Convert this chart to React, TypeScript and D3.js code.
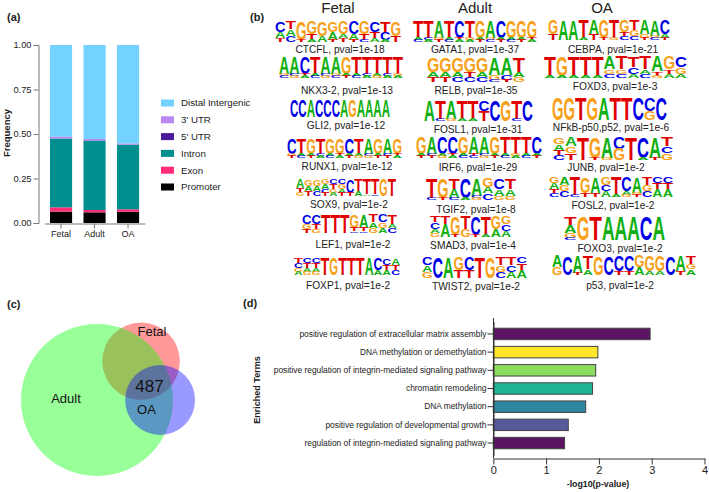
import * as d3 from "d3";
import React from "react";

const FONT = "'Liberation Sans', Arial, sans-serif";

// (a) genomic annotation
const stages = ["Fetal", "Adult", "OA"];
const annotations = ["Promoter", "Exon", "Intron", "5' UTR", "3' UTR", "Distal Intergenic"];
const annotationColors = ["#000000", "#ff2d78", "#008f8f", "#4b1a9a", "#b988f5", "#73d2ff"];
const promoter = [0.064, 0.06, 0.063];
const exon = [0.024, 0.013, 0.014];
const intron = [0.386, 0.39, 0.363];
const utr5 = [0.001, 0.001, 0.001];
const utr3 = [0.01, 0.008, 0.006];
const distal = [0.515, 0.528, 0.553];
const freqTicks = [0, 0.25, 0.5, 0.75, 1];

// (b) motifs: columns top to bottom, letter + height in tenths
const motifNames = [
  ["CTCFL, pval=1e-18", "NKX3-2, pval=1e-13", "GLI2, pval=1e-12", "RUNX1, pval=1e-12", "SOX9, pval=1e-2", "LEF1, pval=1e-2", "FOXP1, pval=1e-2"],
  ["GATA1, pval=1e-37", "RELB, pval=1e-35", "FOSL1, pval=1e-31", "IRF6, pval=1e-29", "TGIF2, pval=1e-8", "SMAD3, pval=1e-4", "TWIST2, pval=1e-2"],
  ["CEBPA, pval=1e-21", "FOXD3, pval=1e-3", "NFkB-p50,p52, pval=1e-6", "JUNB, pval=1e-2", "FOSL2, pval=1e-2", "FOXO3, pval=1e-2", "p53, pval=1e-2"],
];
const motifLogos = [
  [
    "C5A3T2 T4A3C3 G9T1 G6T3A1 G7A3 G5A4T1 G6A2T2 C6A3T1 G6T3C1 C5T3A2 T5C4A1 G7T3",
    "A8G1C1 A8C1G1 C8T1A1 T8A1C1 A8C1G1 A8G1C1 G8A1T1 T8A1C1 T8C1A1 T8A1G1 T8C1A1 T8G1A1",
    "C10 C10 A10 C10 C10 C10 A10 G10 A10 A10 A10 A10",
    "C8G1T1 T8A1C1 G8A1T1 T8C1A1 G8A1C1 G8T1A1 C8A1T1 T8A1G1 A8C1G1 G8A1T1 A8C1T1 G8T1A1",
    "A5T3G2 G4A3T3 G4A3C3 G3A3C2T2 C3T3G2A2 C3G3A2T2 C8T2 T7A3 T9A1 T9C1 G10 T10",
    "C5G3T2 C5T3G2 T10 T10 T10 G7T2C1 A7T2C1 T4A3G3 C4G3A3 T5A2C3",
    "T3C3G2A2 C3T3A2G2 C3T3A2G2 T10 G10 T10 T10 T10 A10 C7A3 C4T3A3 A4T3C3",
  ],
  [
    "T8A1C1 T8C1A1 A8G1T1 T8A1C1 C8T1A1 T8G1A1 G8A1T1 A8G1C1 C8A1T1 G8A1C1 G8A1T1 G8T1A1",
    "G6A2T2 G6A2T2 G6A2C2 G6T2C2 G6A2C2 A7G2C1 A7C2T1 T6A2G2",
    "A10 T9C1 A9G1 T9A1 T9A1 C5T5 C10 G10 T9C1 C10",
    "G8A1T1 A8C1T1 C8A1G1 C8T1A1 G8A1C1 A8T1C1 A8C1G1 G8A1T1 T8A1C1 T8G1A1 T8A1C1 C8A1T1",
    "T9C1 G9T1 T5A4C1 C9A1 A8C1G1 G4A3C3 C5A3G2 T5A3G2",
    "T3C3A2G2 T4A6 G9T1 T6G4 C9T1 T9A1 G6A4 G4C3A3",
    "C4A3G3 C10 A10 G6T4 C6T4 T10 G10 T4G3C3 T4C3A3 C3T3A4",
  ],
  [
    "G7T3 A10 A10 T9A1 A7T3 G9T1 T9G1 G6T2C2 T5G3C2 A7G2T1 A8G1C1 C7A2T1",
    "T9A1 G9A1 T9A1 T9A1 T9A1 A6G2C2 T6G2C2 T5C3A2 T6A2C2 A7T2G1 G6T2A2 C5G3A2",
    "G10 G10 T10 G10 A10 T10 T10 C10 C6G4 C10",
    "G3A3T2C2 A4G3T3 T10 G9T1 A9G1 C5G5 T10 C9A1 A9T1 T4C3G3",
    "G3A3T2C2 A4G3C3 T9C1 G8T2 A8T2 G4C3A3 T9A1 C7A2G1 A8G1T1 T4G3C3 C3T3A4 C3T3A4",
    "T4A3G2C1 G10 T10 A10 A10 A10 C10 A10",
    "A6G4 C10 A9T1 T7A3 G10 C10 C8T2 C8T2 G6A4 G8A2 G8A2 C10 A8T2 T4G3A3",
  ],
];

// (c) venn, in units of the Adult radius
const vennNames = ["Fetal", "Adult", "OA"];
const vennCx = [0.58, 0, 0.83];
const vennCy = [-0.51, 0, 0];
const vennR = [0.51, 1, 0.46];
const vennColors = ["#ff0000", "#00ff00", "#0000ff"];

// (d) enrichment
const terms = [
  "positive regulation of extracellular matrix assembly",
  "DNA methylation or demethylation",
  "positive regulation of integrin-mediated signaling pathway",
  "chromatin remodeling",
  "DNA methylation",
  "positive regulation of developmental growth",
  "regulation of integrin-mediated signaling pathway",
];
const termValues = [2.97, 1.98, 1.94, 1.88, 1.75, 1.42, 1.35];
const termColors = ["#5a1463", "#ffe628", "#8bdc5f", "#1fb594", "#2e86a0", "#56599c", "#5a1463"];

const logoColors: any = { A: "#12b012", C: "#0000e6", G: "#f7a11a", T: "#e00000" };
const advance: any = { A: 0.722, C: 0.722, G: 0.778, T: 0.611 };

// logo boxes per panel: left, right, top, bottom, label centre, label baseline
const logoBoxes = [
  [[275, 401, 21, 42, 340, 53], [279, 403, 57, 78, 347, 94], [290, 390, 100, 117, 346, 129], [287, 402, 139, 158, 347, 170], [296, 396, 179, 196, 349, 207.5], [302, 397, 215, 233, 353, 247.5], [294, 400, 258, 275, 348, 288.5]],
  [[413, 537, 21, 42, 475, 53], [427, 525, 58, 82, 476, 94], [424, 533, 100, 121, 478, 133], [416, 542, 137, 158, 478, 170.5], [426, 516, 178, 200, 476, 212.5], [430, 511, 216, 237, 473, 248.5], [422, 527, 257, 278, 476, 289.5]],
  [[548, 670, 20, 40, 613, 53], [544, 687, 56, 78, 615, 89.5], [552, 667, 98, 120, 611, 131], [553, 673, 137, 160, 606, 170.5], [549, 673, 177, 197, 613, 208.5], [564, 665, 216, 240, 620, 252], [552, 696, 256, 275, 620, 288.5]],
];

const Logo = ({ logo, box }: any) => {
  const [left, right, top, bottom] = box;
  const columns = logo.split(" ");
  const x = d3.scaleBand(d3.range(columns.length), [left, right]);
  const y = d3.scaleLinear([0, 10], [bottom, top]);
  const fs = 10;
  return (
    <g fontFamily={FONT} fontWeight="bold" fontSize={fs}>
      {columns.map((col: string, i: number) => {
        const parts = [...col.matchAll(/([ACGT])(\d+)/g)].map((m) => ({ l: m[1], h: +m[2] }));
        let yTop = 10;
        return parts.map((p, j) => {
          const y0 = yTop;
          yTop -= p.h;
          const sx = x.bandwidth() / (advance[p.l] * fs);
          const sy = (y(yTop) - y(y0)) / (0.716 * fs);
          return (
            <text
              key={j}
              fill={logoColors[p.l]}
              transform={`translate(${x(i)},${y(yTop)}) scale(${sx},${sy})`}
            >
              {p.l}
            </text>
          );
        });
      })}
    </g>
  );
};

export default function App() {
  const gy1 = React.useRef<any>();
  const gx1 = React.useRef<any>();
  const gy2 = React.useRef<any>();
  const gx2 = React.useRef<any>();

  const xA = d3.scaleBand(stages, [44.3, 144.8]).paddingInner(0.34).paddingOuter(0.17);
  const yA = d3.scaleLinear([0, 1], [223, 45]);
  const table = stages.map((s, i) => ({
    stage: s,
    [annotations[0]]: promoter[i],
    [annotations[1]]: exon[i],
    [annotations[2]]: intron[i],
    [annotations[3]]: utr5[i],
    [annotations[4]]: utr3[i],
    [annotations[5]]: distal[i],
  }));
  const series = d3.stack<any>().keys(annotations)(table);

  const xD = d3.scaleLinear([0, 4], [493.3, 704.5]);
  const yD = d3.scaleBand(terms, [321.5, 455.5]).padding(0.37);

  const vx = d3.scaleLinear([0, 1], [97, 173]);
  const vy = d3.scaleLinear([0, 1], [400, 476]);
  const vr = d3.scaleLinear([0, 1], [0, 76]);

  React.useEffect(() => {
    const style = (g: any, color: string, size: number) => {
      g.selectAll("path").attr("stroke", color).attr("stroke-width", 1);
      g.selectAll("line").attr("stroke", color).attr("stroke-width", 1);
      g.selectAll("text").attr("fill", "#222").attr("font-size", size).attr("font-family", FONT);
    };
    d3.select(gy1.current)
      .call(d3.axisLeft(yA).tickValues(freqTicks).tickFormat(d3.format(".2f")).tickSizeOuter(0).tickSize(5).tickPadding(2) as any)
      .call(style, "#777", 9.3);
    d3.select(gx1.current)
      .call(d3.axisBottom(xA).tickSize(5).tickSizeOuter(0).tickPadding(2) as any)
      .call(style, "#777", 9);
    d3.select(gy2.current)
      .call(d3.axisLeft(yD).tickSize(6).tickSizeOuter(0).tickPadding(1) as any)
      .call(style, "#333", 8.4);
    d3.select(gx2.current)
      .call(d3.axisBottom(xD).ticks(4).tickSize(6).tickSizeOuter(0).tickPadding(2).tickFormat(d3.format("d")) as any)
      .call(style, "#333", 11);
  }, []);

  const labelStyle = { fontFamily: FONT, fill: "#222" };

  return (
    <svg width={709} height={492} style={{ position: "absolute", left: 0, top: 0 }}>
      <rect width={709} height={492} fill="white" />

      {/* (a) */}
      <text x={7} y={21} fontSize={11} fontWeight="bold" {...labelStyle}>(a)</text>
      {series.map((s: any, i: number) => (
        <g key={i} fill={annotationColors[i]}>
          {s.map((d: any, j: number) => (
            <rect key={j} x={xA(stages[j])} width={xA.bandwidth()} y={yA(d[1])} height={yA(d[0]) - yA(d[1])} />
          ))}
        </g>
      ))}
      <g ref={gy1} transform="translate(38.5,0)" />
      <g ref={gx1} transform="translate(0,223.5)" />
      <text transform="translate(9.5,133) rotate(-90)" textAnchor="middle" fontSize={9.5} fontWeight="bold" {...labelStyle}>Frequency</text>
      {annotations.map((a, i) => {
        const ly = d3.scaleLinear([0, 5], [187, 103])(i);
        return (
          <g key={a}>
            <rect x={161} y={ly - 3.5} width={13} height={7} fill={annotationColors[i]} />
            <text x={181} y={ly + 3.3} fontSize={9.7} {...labelStyle}>{a}</text>
          </g>
        );
      })}

      {/* (b) */}
      <text x={250} y={21} fontSize={11} fontWeight="bold" {...labelStyle}>(b)</text>
      {stages.map((s, k) => (
        <text key={s} x={[338, 475, 602][k]} y={13} textAnchor="middle" fontSize={15} {...labelStyle}>{s}</text>
      ))}
      {motifLogos.map((col, k) =>
        col.map((logo, m) => (
          <g key={motifNames[k][m]}>
            <Logo logo={logo} box={logoBoxes[k][m]} />
            <text x={logoBoxes[k][m][4]} y={logoBoxes[k][m][5]} textAnchor="middle" fontSize={10.2} {...labelStyle}>
              {motifNames[k][m]}
            </text>
          </g>
        ))
      )}

      {/* (c) */}
      <text x={7} y={308} fontSize={11} fontWeight="bold" {...labelStyle}>(c)</text>
      {vennNames.map((n, i) => (
        <circle key={n} cx={vx(vennCx[i])} cy={vy(vennCy[i])} r={vr(vennR[i])} fill={vennColors[i]} fillOpacity={0.4} />
      ))}
      <text x={152} y={336} textAnchor="middle" fontSize={13} fill="#111" fontFamily={FONT}>Fetal</text>
      <text x={66} y={403} textAnchor="middle" fontSize={13} fill="#111" fontFamily={FONT}>Adult</text>
      <text x={149.5} y={392} textAnchor="middle" fontSize={17} fill="#111" fontFamily={FONT}>487</text>
      <text x={146.5} y={414} textAnchor="middle" fontSize={13} fill="#111" fontFamily={FONT}>OA</text>

      {/* (d) */}
      <text x={243} y={307} fontSize={11} fontWeight="bold" {...labelStyle}>(d)</text>
      {terms.map((t, i) => (
        <rect
          key={t}
          x={xD(0)}
          y={yD(t)}
          width={xD(termValues[i]) - xD(0)}
          height={yD.bandwidth()}
          fill={termColors[i]}
          stroke="#444"
          strokeWidth={1}
        />
      ))}
      <g ref={gy2} transform="translate(493.5,0)" />
      <g ref={gx2} transform="translate(0,458.5)" />
      <path d="M493.5,318V458" stroke="#333" />
      <text transform="translate(260,390) rotate(-90)" textAnchor="middle" fontSize={9} fontWeight="bold" {...labelStyle}>Enriched Terms</text>
      <text x={598} y={487} textAnchor="middle" fontSize={8.8} fontWeight="bold" {...labelStyle}>-log10(p-value)</text>
    </svg>
  );
}
